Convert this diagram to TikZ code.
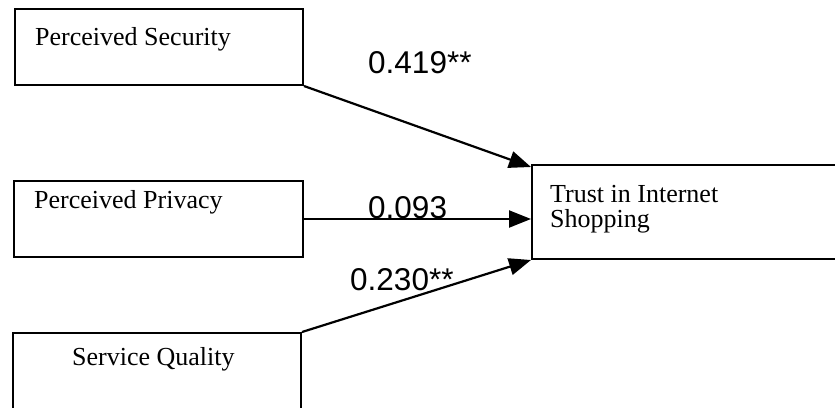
\documentclass[tikz,border=0pt]{standalone}
\usepackage{fontspec}
\setmainfont{Liberation Serif}
\newfontfamily\lblfont{Liberation Sans}
\usetikzlibrary{arrows.meta}
\begin{document}
\begin{tikzpicture}[x=1pt,y=-1pt,
  box/.style={draw=black, line width=2pt, rectangle, inner sep=0pt, anchor=north west},
  boxtext/.style={inner sep=0pt, anchor=base west, font=\fontsize{26}{23}\selectfont},
  coef/.style={inner sep=0pt, anchor=base west, font=\lblfont\fontsize{31.5}{31.5}\selectfont},
  link/.style={line width=2.2pt, -{Triangle[length=22pt,width=17pt]}, shorten >=0pt}]
\useasboundingbox (0,0) rectangle (835,407);
\clip (0,0) rectangle (835,407);
% boxes
\node[box, minimum width=288pt, minimum height=76pt] (sec) at (14,8) {};
\node[box, minimum width=289pt, minimum height=76pt] (priv) at (13,180) {};
\node[box, minimum width=288pt, minimum height=100pt] (serv) at (12,332) {};
\node[box, minimum width=340pt, minimum height=94pt] (trust) at (531,164) {};
% texts
\node[boxtext] (tsec) at (35,45) {Perceived Security};
\node[boxtext] (tpriv) at (34,208) {Perceived Privacy};
\node[boxtext] (tserv) at (72,365) {Service Quality};
\node[boxtext] (ttrust) at (550,202) {Trust in Internet};
\node[boxtext] (ttrust2) at (550,227) {Shopping};
% connectors
\draw[link] (sec.south east) -- ([yshift=-3pt]trust.north west);
\draw[link] (priv.east) -- (priv.east -| trust.west);
\draw[link] (serv.north east) -- (trust.south west);
% coefficients
\node[coef] (c1) at (368,73) {0.419**};
\node[coef] (c2) at (368,218) {0.093};
\node[coef] (c3) at (350,290) {0.230**};
\end{tikzpicture}
\end{document}
